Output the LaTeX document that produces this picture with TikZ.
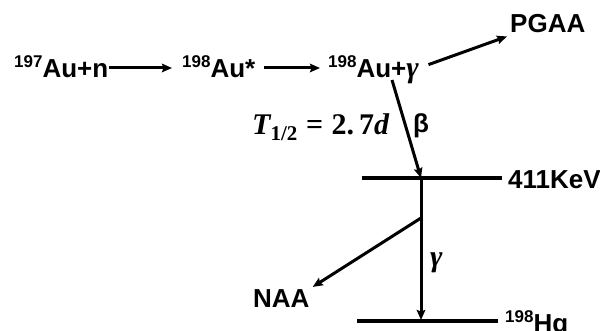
\documentclass[tikz,border=0pt]{standalone}
\usepackage{fontspec}
\setmainfont{Liberation Sans}
\newfontfamily\mserif{Liberation Serif}
\usetikzlibrary{positioning,arrows.meta}

\newcommand{\iso}[1]{\raisebox{10pt}{\fontsize{17}{17}\selectfont #1}}
\newcommand{\mvar}[1]{{\mserif\bfseries\itshape #1}}

\begin{document}
\begin{tikzpicture}[
    x=1pt, y=-1pt,
    font=\bfseries\fontsize{26}{30}\selectfont,
    nuc/.style={inner sep=0pt, anchor=base west, text height=20pt, text depth=0pt},
    lbl/.style={inner sep=0pt, anchor=base west},
    mlbl/.style={lbl, font=\mserif\bfseries\fontsize{30}{32}\selectfont},
    arr/.style={-{Stealth[length=10pt, width=8.5pt, inset=1.5pt]}, line width=3pt},
    level/.style={line width=3.2pt}
]
\useasboundingbox (0,0) rectangle (600,331);
\clip (0,0) rectangle (600,331);

% reaction chain
\node[nuc] (au197) at (14,78) {\iso{197}Au+n};
\node[nuc] (au198ex) at (182,78) {\iso{198}Au*};
\node[nuc] (au198g) at (328,78) {\iso{198}Au+{\fontsize{30}{30}\selectfont\mvar{γ}}};
\node[lbl, inner sep=3pt] (pgaa) at (507,33) {PGAA};

% decay labels
\node[mlbl] (halflife) at (252,135)
     {\mvar{T}\textsubscript{1/2}\;=\;2.\,7\mvar{d}};
\node[lbl] (betalbl) at (413,133) {β};
\node[mlbl] (gamlbl) at (430,266) {\mvar{γ}};
\node[lbl] (kev) at (508,189) {411KeV};
\node[lbl] (hg) at (505,332) {\iso{198}Hg};
\node[lbl, inner sep=3pt] (naa) at (250,308) {NAA};

% levels and decay points
\coordinate (l411w) at (362,178);
\coordinate (l411e) at (502,178);
\coordinate (lhgw) at (357,321);
\coordinate (lhge) at (498,321);
\coordinate (b0) at (392,80);
\coordinate (b1) at (421,178);
\coordinate (g0) at (421,218);
\coordinate (g1) at (421,320);

\draw[level] (l411w) -- (l411e);
\draw[level] (lhgw) -- (lhge);

\draw[arr, shorten <=1pt, shorten >=10pt] (au197) -- (au198ex);
\draw[arr, shorten <=8pt, shorten >=8pt] (au198ex) -- (au198g);
\draw[arr, shorten <=10pt] (au198g.east) -- (pgaa.south west);
\draw[arr] (b0) -- (b1);
\draw[arr] (b1) -- (g1);
\draw[arr] (g0) -- (naa.north east);
\end{tikzpicture}
\end{document}
